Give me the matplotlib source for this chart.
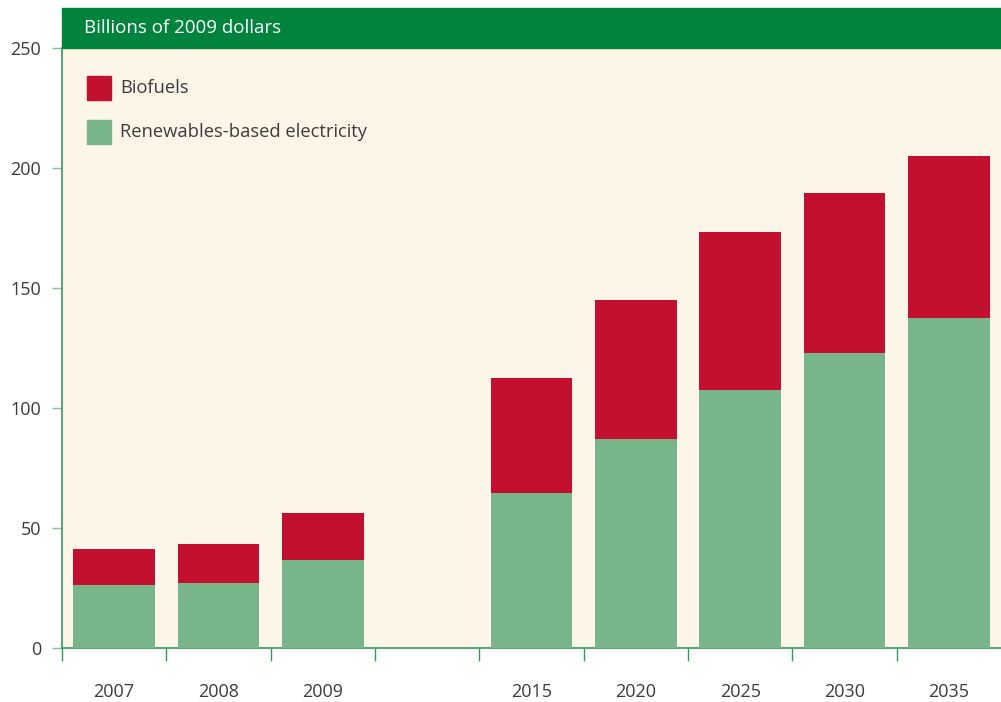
import matplotlib
matplotlib.use("Agg")
import matplotlib.pyplot as plt
from matplotlib.patches import Rectangle

# data (billions of 2009 dollars)
years = ["2007", "2008", "2009", "", "2015", "2020", "2025", "2030", "2035"]
electricity = [26.3, 27.1, 36.7, 0, 64.6, 87.1, 107.5, 122.9, 137.5]
biofuels = [15.0, 16.2, 19.6, 0, 47.9, 57.9, 65.8, 66.7, 67.5]
series_names = ["Biofuels", "Renewables-based electricity"]

red = "#C3102F"
green = "#79B58B"
dark_green = "#00843D"
axis_green = "#2E9E5B"
cream = "#FCF5E8"
text_col = "#3C3C3C"

plt.rcParams['font.family'] = ['Open Sans', 'DejaVu Sans']

fig = plt.figure(figsize=(10.01, 7.02), dpi=100)
ax = fig.add_axes([62 / 1001, 54 / 702, 939 / 1001, 600 / 702])
ax.set_facecolor(cream)

x = list(range(len(years)))
ax.bar(x, electricity, width=0.78, color=green, zorder=3)
ax.bar(x, biofuels, width=0.78, bottom=electricity, color=red, zorder=3)

ax.set_xlim(-0.5, 8.5)
ax.set_ylim(0, 250)

for s in ["top", "right"]:
    ax.spines[s].set_visible(False)
ax.spines["left"].set_color(axis_green)
ax.spines["bottom"].set_color(axis_green)
ax.spines["left"].set_linewidth(1.2)
ax.spines["bottom"].set_linewidth(1.2)

ax.set_yticks([0, 50, 100, 150, 200, 250])
ax.tick_params(axis="y", direction="out", length=7, width=1, color="#7CC39A",
               pad=8, labelsize=13, labelcolor=text_col)

ax.set_xticks(x)
ax.set_xticklabels(years)
ax.set_xticks([i - 0.5 for i in range(9)], minor=True)
ax.tick_params(axis="x", which="major", length=0, pad=25, labelsize=13,
               labelcolor=text_col)
ax.tick_params(axis="x", which="minor", direction="out", length=9, width=1,
               color=axis_green)

# header band
ax.add_patch(Rectangle((0, 1.0), 1.0, 40 / 600, transform=ax.transAxes,
                       color=dark_green, clip_on=False, zorder=5))
ax.text(22 / 939, 1.0 + 20 / 600, "Billions of 2009 dollars",
        transform=ax.transAxes, color="white", fontsize=13.5,
        va="center", ha="left", zorder=6)

# legend (drawn by hand to match the square markers)
for i, (name, col) in enumerate(zip(series_names, [red, green])):
    top = 1 - (28 + 44 * i) / 600
    ax.add_patch(Rectangle((25 / 939, top - 24 / 600), 24 / 939, 24 / 600,
                           transform=ax.transAxes, color=col, zorder=4))
    ax.text(58 / 939, top - 12 / 600, name, transform=ax.transAxes,
            color=text_col, fontsize=13.2, va="center", ha="left", zorder=4)

fig.savefig("out.png", dpi=100)
